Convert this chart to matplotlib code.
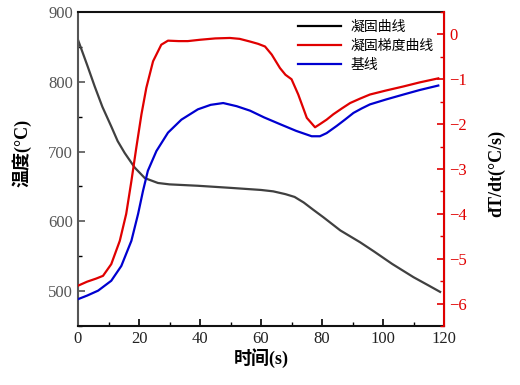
import matplotlib
matplotlib.use("Agg")
from matplotlib import pyplot as plt
from matplotlib.ticker import MultipleLocator

plt.rcParams['font.family'] = ['Liberation Serif', 'Noto Sans CJK SC']
plt.rcParams['axes.unicode_minus'] = True

# solidification curve (left axis)
t_cool = [0, 3, 5.5, 8, 10.9, 13, 15.3, 18.6, 21.9, 26.2, 30, 39.3, 50, 60, 64, 68,
          71, 74, 77, 80.4, 86, 92.5, 97, 103, 110, 115, 118.7]
temp = [860, 824, 793, 764, 736, 715, 698, 677, 662, 655, 653, 651, 648, 645, 643,
        639, 635, 627, 617, 606, 587, 570, 557, 539, 520, 508, 499]

# solidification gradient curve (right axis)
t_grad = [0, 3, 6, 8.2, 10.9, 13.7, 15.8, 17.5, 19.1, 20.8, 22.4, 24.6, 27.3, 29.5,
          33, 36, 40, 45, 49.8, 53, 56.4, 59, 61.3, 63.5, 66.2, 68, 70, 72.2, 75,
          77.7, 79.3, 81.5, 83.7, 86.5, 89.2, 92.5, 95.7, 101, 106.7, 112, 118.1]
grad = [-5.6, -5.51, -5.44, -5.38, -5.12, -4.6, -4.0, -3.27, -2.53, -1.78, -1.19,
        -0.6, -0.23, -0.14, -0.15, -0.15, -0.12, -0.09, -0.08, -0.1, -0.16, -0.21,
        -0.27, -0.45, -0.75, -0.9, -1.0, -1.34, -1.86, -2.07, -2.0, -1.9, -1.78,
        -1.65, -1.53, -1.43, -1.34, -1.25, -1.16, -1.07, -0.98]

# baseline (right axis)
t_base = [0, 3, 6.6, 10.9, 14.2, 17.5, 19.7, 21.3, 22.9, 25.7, 29.5, 33.9, 39.3,
          43.5, 47.6, 52, 56.4, 61, 66.2, 71.5, 76.6, 79.3, 81.5, 84.8, 87.5, 90.3,
          93, 95.7, 101, 106.7, 112, 118.1]
base = [-5.9, -5.82, -5.71, -5.49, -5.16, -4.6, -4.0, -3.49, -3.04, -2.6, -2.19,
        -1.9, -1.67, -1.57, -1.53, -1.6, -1.7, -1.85, -2.0, -2.15, -2.27, -2.27,
        -2.2, -2.04, -1.9, -1.75, -1.65, -1.56, -1.45, -1.34, -1.24, -1.14]

fig = plt.figure(figsize=(5.2, 3.85), dpi=100)
ax = fig.add_axes([0.15, 0.153, 0.704, 0.816])
ax2 = ax.twinx()

l1, = ax.plot(t_cool, temp, color='#404040', lw=1.6, label='凝固曲线')
l2, = ax2.plot(t_grad, grad, color='#e00000', lw=1.6, label='凝固梯度曲线')
l3, = ax2.plot(t_base, base, color='#0000d0', lw=1.6, label='基线')

ax.set_xlim(0, 120)
ax.set_ylim(450, 900)
ax2.set_ylim(-6.5, 0.5)

ax.xaxis.set_major_locator(MultipleLocator(20))
ax.xaxis.set_minor_locator(MultipleLocator(10))
ax.yaxis.set_major_locator(MultipleLocator(100))
ax.yaxis.set_minor_locator(MultipleLocator(50))
ax2.yaxis.set_major_locator(MultipleLocator(1))
ax2.yaxis.set_minor_locator(MultipleLocator(0.5))

ax.tick_params(axis='both', which='both', direction='in', labelsize=12)
ax.tick_params(axis='y', colors='#555555', labelcolor='#555555')
ax.tick_params(axis='x', labelcolor='#222222')
ax.tick_params(which='major', length=5, width=1.2)
ax.tick_params(which='minor', length=3, width=1)
ax2.tick_params(axis='y', which='both', direction='in', colors='#e00000', labelsize=12)
ax2.tick_params(which='major', length=5, width=1.2)
ax2.tick_params(which='minor', length=3, width=1)

for s in ['bottom', 'top']:
    ax.spines[s].set_linewidth(1.5)
    ax.spines[s].set_color('#111111')
ax.spines['left'].set_color('#555555')
ax.spines['left'].set_linewidth(1.5)
ax2.spines['right'].set_color('#e00000')
ax2.spines['right'].set_linewidth(1.5)
ax2.spines['top'].set_visible(False)
ax2.spines['left'].set_visible(False)
ax2.spines['bottom'].set_visible(False)

ax.set_xlabel('时间(s)', fontsize=13, fontweight='bold', labelpad=1)
ax.set_ylabel('温度(°C)', fontsize=13, fontweight='bold')
ax.yaxis.set_label_coords(-0.128, 0.55)
ax2.set_ylabel('dT/dt(°C/s)', fontsize=13, fontweight='bold', color='black')
ax2.yaxis.set_label_coords(1.12, 0.485)

leg = ax.legend(handles=[l1, l2, l3], loc='upper right', frameon=False,
                bbox_to_anchor=(0.995, 1.0), handlelength=3.1, handletextpad=0.7,
                borderaxespad=0.2, labelspacing=0.35,
                prop={'family': ['Noto Sans CJK SC'], 'size': 10})
leg.get_lines()[0].set_color('black')

fig.savefig('out.png', dpi=100)
